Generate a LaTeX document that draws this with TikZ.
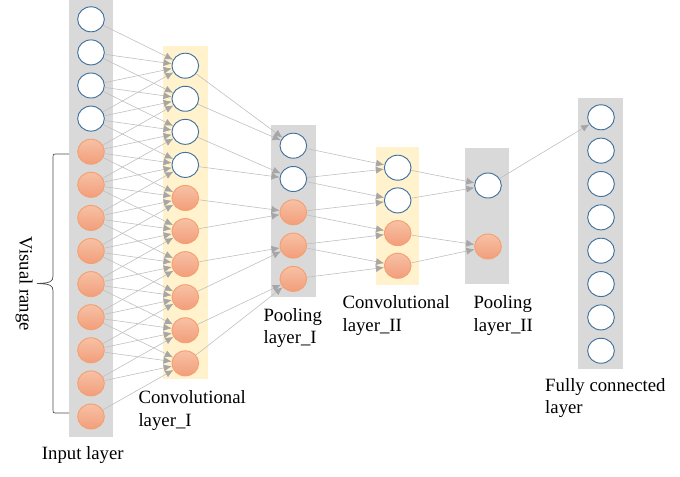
\documentclass[tikz,border=0pt]{standalone}
\usepackage{fontspec}
\setmainfont{Liberation Serif}
\usetikzlibrary{arrows.meta,shapes.geometric}
\definecolor{colgray}{HTML}{D9D9D9}
\definecolor{colyellow}{HTML}{FFF2CC}
\definecolor{nodeblue}{HTML}{41719C}
\definecolor{nodeorange}{HTML}{F4A070}
\definecolor{orangetop}{HTML}{F7C1A5}
\definecolor{orangebot}{HTML}{F29E7B}
\definecolor{linkgray}{HTML}{BFBFBF}
\definecolor{tipgray}{HTML}{A6A6A6}
\tikzset{
  unit/.style={ellipse, minimum width=0.8cm, minimum height=0.75cm, inner sep=0pt, line width=0.8pt},
  wunit/.style={unit, draw=nodeblue, fill=white},
  ounit/.style={unit, draw=nodeorange, top color=orangetop, bottom color=orangebot},
  link/.style={draw=linkgray, line width=0.5pt, -{Latex[length=7pt,width=6pt,color=tipgray]}},
  lbl/.style={font=\fontsize{16}{19}\selectfont, align=left, anchor=north west, inner sep=0pt},
}
\begin{document}
\begin{tikzpicture}[x=0.03cm, y=-0.03cm]
\useasboundingbox (0,0) rectangle (680,476);
% columns
\fill[colgray] (69,0) rectangle (112.7,436.7);
\fill[colyellow] (163,46) rectangle (208,379);
\fill[colgray] (270.7,125.3) rectangle (316,297.3);
\fill[colyellow] (375.7,147) rectangle (419.3,285.3);
\fill[colgray] (465,148.3) rectangle (509,284.3);
\fill[colgray] (578.3,98.3) rectangle (622.7,369.3);

% units
\foreach \i in {1,...,4}
    \node[wunit] (in\i) at (91,{19.3+33.1*(\i-1)}) {};
\foreach \i in {5,...,13}
    \node[ounit] (in\i) at (91,{19.3+33.1*(\i-1)}) {};
\foreach \i in {1,...,4}
    \node[wunit] (cA\i) at (185.3,{65.7+33.07*(\i-1)}) {};
\foreach \i in {5,...,10}
    \node[ounit] (cA\i) at (185.3,{65.7+33.07*(\i-1)}) {};
\foreach \i in {1,2}
    \node[wunit] (pA\i) at (293.3,{145.7+33.3*(\i-1)}) {};
\foreach \i in {3,4,5}
    \node[ounit] (pA\i) at (293.3,{145.7+33.3*(\i-1)}) {};
\foreach \i in {1,2}
    \node[wunit] (cB\i) at (397.7,{167.7+32.7*(\i-1)}) {};
\foreach \i in {3,4}
    \node[ounit] (cB\i) at (397.7,{167.7+32.7*(\i-1)}) {};
\node[wunit] (pB1) at (488,185.5) {};
\node[ounit] (pB2) at (488,246.5) {};
\foreach \i in {1,...,8}
    \node[wunit] (fc\i) at (601,{117.3+33.35*(\i-1)}) {};

% links
\foreach \j in {1,...,10}
    \foreach \k in {0,...,3}
    {
        \pgfmathtruncatemacro\i{\j+\k}
        \draw[link] (in\i) -- (cA\j);
    }
\foreach \k in {1,...,5}
{
    \pgfmathtruncatemacro\a{2*\k-1}
    \pgfmathtruncatemacro\b{2*\k}
    \draw[link] (cA\a) -- (pA\k);
    \draw[link] (cA\b) -- (pA\k);
}
\foreach \j in {1,...,4}
{
    \pgfmathtruncatemacro\i{\j+1}
    \draw[link] (pA\j) -- (cB\j);
    \draw[link] (pA\i) -- (cB\j);
}
\draw[link] (cB1) -- (pB1);
\draw[link] (cB2) -- (pB1);
\draw[link] (cB3) -- (pB2);
\draw[link] (cB4) -- (pB2);
\draw[link] (pB1) -- (fc1);

% visual range
\draw[line width=0.6pt, black!70] (69,154) -- (56,154) .. controls (53,154) .. (53,157)
    -- (53,276) .. controls (53,282) and (50,283) .. (37,283.5)
    .. controls (50,284) and (53,285) .. (53,291)
    -- (53,410) .. controls (53,413) .. (56,413) -- (69,413);
\node[font=\fontsize{16}{19}\selectfont, rotate=-90] (vr) at (24,284) {Visual range};

% labels
\node[lbl] (lin) at (41.7,446) {Input layer};
\node[lbl] (lcA) at (138.3,390.5) {Convolutional\\layer\_I};
\node[lbl] (lpA) at (263.3,308.2) {Pooling\\layer\_I};
\node[lbl] (lcB) at (342.3,295.5) {Convolutional\\layer\_II};
\node[lbl] (lpB) at (473.3,295.5) {Pooling\\layer\_II};
\node[lbl] (lfc) at (545,377.9) {Fully connected\\layer};
\end{tikzpicture}
\end{document}
